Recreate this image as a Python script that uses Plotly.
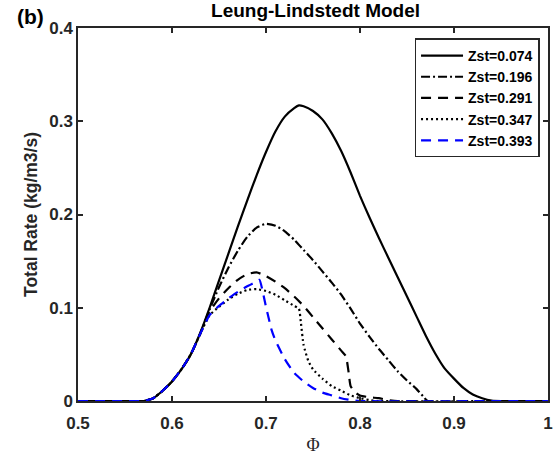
import plotly.graph_objects as go

# Equivalence ratio grid and series values
phi_a = [0.50, 0.55, 0.57, 0.58, 0.59, 0.60, 0.61, 0.62, 0.63, 0.64, 0.65, 0.66, 0.67, 0.68, 0.69,
         0.70, 0.71, 0.72, 0.73, 0.735, 0.74, 0.75, 0.76, 0.77, 0.78, 0.79, 0.80, 0.81, 0.82, 0.83,
         0.84, 0.85, 0.86, 0.87, 0.88, 0.89, 0.90, 0.91, 0.92, 0.93, 0.94, 0.95, 1.00]
rate_074 = [0, 0, 0, 0.003, 0.011, 0.021, 0.034, 0.050, 0.073, 0.100, 0.129, 0.158, 0.187, 0.215, 0.242,
            0.267, 0.289, 0.305, 0.314, 0.317, 0.316, 0.311, 0.302, 0.287, 0.268, 0.245, 0.220, 0.197, 0.175, 0.154,
            0.133, 0.112, 0.091, 0.070, 0.051, 0.035, 0.024, 0.014, 0.007, 0.003, 0.0005, 0, 0]

phi_b = [0.50, 0.55, 0.57, 0.58, 0.59, 0.60, 0.61, 0.62, 0.63, 0.64, 0.65, 0.66, 0.67, 0.68, 0.69,
         0.70, 0.71, 0.72, 0.73, 0.74, 0.75, 0.76, 0.77, 0.78, 0.79, 0.80, 0.81, 0.82, 0.83,
         0.84, 0.85, 0.86, 0.868, 0.872, 1.00]
rate_196 = [0, 0, 0, 0.003, 0.011, 0.021, 0.034, 0.050, 0.072, 0.098, 0.122, 0.143, 0.161, 0.176, 0.186,
            0.190, 0.188, 0.182, 0.173, 0.162, 0.151, 0.139, 0.127, 0.114, 0.099, 0.083, 0.069, 0.056, 0.044,
            0.032, 0.022, 0.013, 0.004, 0, 0]

phi_c = [0.50, 0.55, 0.57, 0.58, 0.59, 0.60, 0.61, 0.62, 0.63, 0.64, 0.65, 0.66, 0.67, 0.68, 0.69,
         0.70, 0.71, 0.72, 0.73, 0.74, 0.75, 0.76, 0.77, 0.78, 0.785, 0.788, 0.79, 0.795, 0.80, 0.81,
         0.82, 0.83, 0.84, 1.00]
rate_291 = [0, 0, 0, 0.003, 0.011, 0.021, 0.034, 0.050, 0.072, 0.096, 0.110, 0.121, 0.130, 0.136, 0.138,
            0.134, 0.128, 0.121, 0.112, 0.102, 0.090, 0.078, 0.066, 0.054, 0.048, 0.030, 0.016, 0.009, 0.006, 0.004,
            0.003, 0.001, 0, 0]

phi_d = [0.50, 0.55, 0.57, 0.58, 0.59, 0.60, 0.61, 0.62, 0.63, 0.64, 0.65, 0.66, 0.67, 0.68, 0.69,
         0.70, 0.71, 0.72, 0.73, 0.735, 0.737, 0.74, 0.745, 0.75, 0.76, 0.77, 0.78, 0.79, 0.80,
         0.81, 0.82, 1.00]
rate_347 = [0, 0, 0, 0.003, 0.011, 0.021, 0.034, 0.050, 0.072, 0.092, 0.101, 0.109, 0.115, 0.119, 0.120,
            0.118, 0.114, 0.108, 0.102, 0.099, 0.085, 0.060, 0.043, 0.034, 0.024, 0.016, 0.011, 0.006, 0.003,
            0.001, 0, 0]

phi_e = [0.50, 0.55, 0.57, 0.58, 0.59, 0.60, 0.61, 0.62, 0.63, 0.64, 0.65, 0.66, 0.67, 0.68, 0.69,
         0.693, 0.70, 0.706, 0.71, 0.72, 0.73, 0.74, 0.75, 0.76, 0.77, 0.78, 0.79, 0.80, 1.00]
rate_393 = [0, 0, 0, 0.003, 0.011, 0.021, 0.034, 0.050, 0.072, 0.092, 0.102, 0.110, 0.117, 0.123, 0.128,
            0.130, 0.101, 0.076, 0.065, 0.045, 0.030, 0.021, 0.014, 0.009, 0.006, 0.003, 0.001, 0, 0]

x_ticks = [0.5, 0.6, 0.7, 0.8, 0.9, 1.0]
x_tick_labels = ["0.5", "0.6", "0.7", "0.8", "0.9", "1"]
y_ticks = [0, 0.1, 0.2, 0.3, 0.4]
y_tick_labels = ["0", "0.1", "0.2", "0.3", "0.4"]

series = [
    ("Zst=0.074", phi_a, rate_074, "black", "solid"),
    ("Zst=0.196", phi_b, rate_196, "black", "9px,3px,2px,3px"),
    ("Zst=0.291", phi_c, rate_291, "black", "10px,7px"),
    ("Zst=0.347", phi_d, rate_347, "black", "2px,3px"),
    ("Zst=0.393", phi_e, rate_393, "#0000FF", "10px,7px"),
]

fig = go.Figure()
for name, xs, ys, col, dash in series:
    fig.add_trace(go.Scatter(x=xs, y=ys, mode="lines", name="<b>%s</b>" % name,
                             line=dict(color=col, width=2.2, dash=dash, shape="spline", smoothing=0.5)))

axis_common = dict(showline=True, mirror="ticks", linecolor="#262626", linewidth=1.5,
                   ticks="inside", ticklen=5, tickwidth=1.5, tickcolor="#262626",
                   showgrid=False, zeroline=False,
                   tickfont=dict(family="Arial, Liberation Sans", size=17, color="#262626"))

fig.update_layout(
    width=558, height=461,
    margin=dict(l=78, r=5, t=28, b=60),
    paper_bgcolor="white", plot_bgcolor="white",
    font=dict(family="Arial, Liberation Sans", color="#262626"),
    title=dict(text="<b>Leung-Lindstedt Model</b>", x=0.5655, xanchor="center", y=0.993, yanchor="top",
               font=dict(size=19, color="black")),
    xaxis=dict(range=[0.5, 1.0], tickvals=x_ticks, ticktext=["<b>%s</b>" % t for t in x_tick_labels],
               ticklabelstandoff=6,
               title=dict(text="Φ", font=dict(family="Times New Roman, Liberation Serif", size=18, color="#262626"), standoff=6),
               **axis_common),
    yaxis=dict(range=[0, 0.4], tickvals=y_ticks, ticktext=["<b>%s</b>" % t for t in y_tick_labels],
               title=dict(text="<b>Total Rate (kg/m3/s)</b>", font=dict(size=17.5, color="#262626"), standoff=7),
               **axis_common),
    legend=dict(x=0.982, y=0.972, xanchor="right", yanchor="top", bgcolor="white",
                bordercolor="#262626", borderwidth=1.5, tracegroupgap=0, itemwidth=42,
                font=dict(size=14, color="black", family="Arial, Liberation Sans"),
                traceorder="normal"),
    showlegend=True,
)

fig.add_annotation(text="<b>(b)</b>", xref="paper", yref="paper", x=0, y=1,
                   xanchor="right", yanchor="top", xshift=-32, yshift=25, showarrow=False,
                   font=dict(size=21, color="black", family="Arial, Liberation Sans"))

fig.write_html("out.html")
